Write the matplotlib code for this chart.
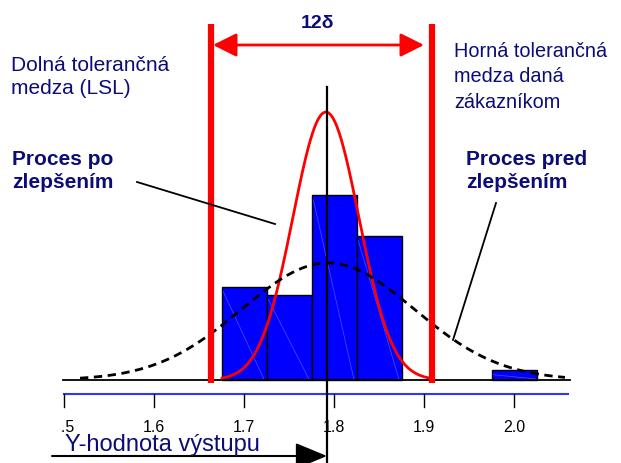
import numpy as np
import matplotlib
matplotlib.use("Agg")
import matplotlib.pyplot as plt
from matplotlib.transforms import Bbox, TransformedBbox

plt.rcParams['font.family'] = ['Liberation Sans', 'DejaVu Sans']

# ---- data ----
bin_left = [1.675, 1.725, 1.775, 1.825, 1.975]
bin_width = [0.050, 0.050, 0.050, 0.050, 0.051]
bar_heights = [4.04, 3.70, 8.04, 6.26, 0.43]

after_mean, after_sigma, after_peak = 1.791, 0.0367, 11.65
after_range = (1.6756, 1.9089)
before_mean, before_sigma, before_peak = 1.7933, 0.0956, 5.09
before_range = (1.5178, 2.0567)

LSL, USL = 1.6633, 1.9089
target = 1.7922
tick_values = [1.5, 1.6, 1.7, 1.8, 1.9, 2.0]
tick_labels = ["1.5", "1.6", "1.7", "1.8", "1.9", "2.0"]

navy = '#0c0c78'
W, H = 621, 463
fig = plt.figure(figsize=(W / 100, H / 100), dpi=100)
ax = fig.add_axes([0, 0, 1, 1])
px_per_x = 900.0
x0 = 1.5 - 64 / px_per_x
ax.set_xlim(x0, x0 + W / px_per_x)
unit = 23.0
ax.set_ylim(-(H - 380) / unit, 380 / unit)
ax.axis('off')


def P(x, y):
    return (x / W, 1 - y / H)


def fy(y):
    return 1 - y / H


# histogram bars
ax.bar(bin_left, bar_heights, width=bin_width, align='edge',
       color='#0000ff', edgecolor='black', linewidth=1, zorder=2)
# faint diagonal sheen lines inside the bars
for l, w, h in zip(bin_left, bin_width, bar_heights):
    ax.plot([l + 0.002, l + w - 0.003], [h - 0.2, 0.05], color='#5050ff',
            lw=0.5, zorder=2.5)

# baseline
ax.plot([1.4989, 2.0622], [0, 0], color='black', lw=1.3, zorder=3)

# curves
xa = np.linspace(*after_range, 300)
ya = after_peak * np.exp(-0.5 * ((xa - after_mean) / after_sigma) ** 2)
ax.plot(xa, ya, color='#ff0000', lw=2, zorder=4)

xb = np.linspace(*before_range, 400)
yb = before_peak * np.exp(-0.5 * ((xb - before_mean) / before_sigma) ** 2)
ax.plot(xb, yb, color='black', lw=2, dashes=(3, 2), zorder=4)

# spec limits
xt = ax.get_xaxis_transform()
for v in (LSL, USL):
    ax.plot([v, v], [fy(24), fy(383)], transform=xt, color='#ff0000', lw=4.5,
            solid_capstyle='butt', zorder=5)

# target line
ax.plot([target, target], [fy(87), fy(463)], transform=xt, color='black', lw=1.6, zorder=6)

# 12 delta arrow
ax.annotate('', xy=P(424, 45), xytext=P(213, 45), xycoords='figure fraction',
            textcoords='figure fraction',
            arrowprops=dict(arrowstyle='<|-|>,head_length=0.4,head_width=0.2',
                            mutation_scale=36, color='#ff0000', lw=2,
                            shrinkA=0, shrinkB=0))
fig.text(*P(317, 24), '12δ', color=navy, fontsize=14, fontweight='bold',
         ha='center', va='center')

# x axis (blue)
ax.plot([1.5, 2.06], [fy(394), fy(394)], transform=xt, color='#3333ff', lw=1.5)
clipbox = TransformedBbox(Bbox([[60.5 / W, 0], [1, 1]]), fig.transFigure)
for v, lab in zip(tick_values, tick_labels):
    ax.plot([v, v], [fy(394), fy(407)], transform=xt, color='black', lw=1)
    t = ax.text(v, fy(427), lab, transform=xt, ha='center', va='center',
                fontsize=11.5, color='black')
    t.set_clip_on(True)
    t.set_clip_box(clipbox)

# bottom arrow and label
ax.annotate('', xy=P(327, 456), xytext=P(52, 456), xycoords='figure fraction',
            textcoords='figure fraction',
            arrowprops=dict(arrowstyle='-|>,head_length=0.58,head_width=0.24',
                            mutation_scale=34, color='black', lw=1.5,
                            shrinkA=0, shrinkB=0))
fig.text(*P(65, 445), 'Y-hodnota výstupu', color=navy, fontsize=17,
         ha='left', va='center')

# texts
fig.text(*P(11, 77), 'Dolná tolerančná\nmedza (LSL)', color=navy, fontsize=15,
         ha='left', va='center', linespacing=1.3)
fig.text(*P(454, 77), 'Horná tolerančná\nmedza daná\nzákazníkom', color=navy,
         fontsize=14.3, ha='left', va='center', linespacing=1.42)
fig.text(*P(12, 171), 'Proces po\nzlepšením', color=navy, fontsize=15,
         fontweight='bold', ha='left', va='center', linespacing=1.25)
fig.text(*P(466, 171), 'Proces pred\nzlepšením', color=navy, fontsize=15,
         fontweight='bold', ha='left', va='center', linespacing=1.25)

# pointer lines
ax.plot([137 / W, 275 / W], [fy(182), fy(224)], transform=fig.transFigure,
        color='black', lw=1.3, zorder=7)
ax.plot([496 / W, 453 / W], [fy(203), fy(340)], transform=fig.transFigure,
        color='black', lw=1.3, zorder=7)

fig.savefig('out.png', dpi=100)
